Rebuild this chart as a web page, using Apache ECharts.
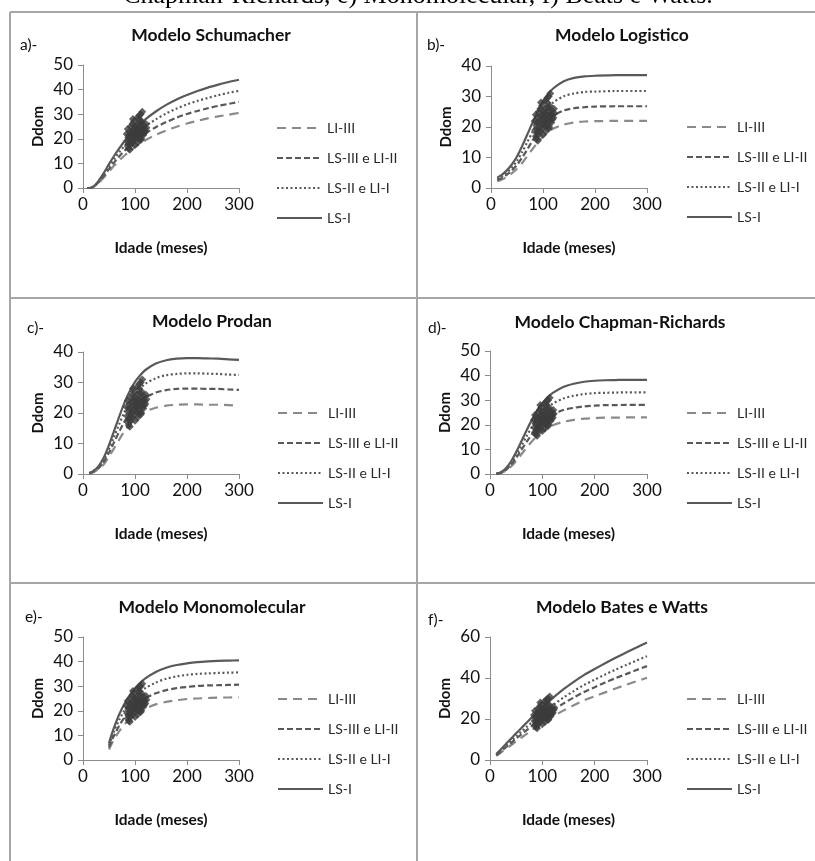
<!DOCTYPE html>
<html><head><meta charset="utf-8">
<script src="https://cdn.jsdelivr.net/npm/echarts@6/dist/echarts.min.js"></script>
<style>html,body{margin:0;padding:0;background:#fff}#c{width:815px;height:861px}</style>
</head><body><div id="c"></div>
<script>
// ---------- data ----------
const seriesNames = ['LI-III', 'LS-III e LI-II', 'LS-II e LI-I', 'LS-I'];

const obsAge  = [84,85,86,86,87,88,88,89,90,90,91,92,92,93,94,95,95,96,97,98,98,99,100,100,101,102,102,103,104,105,105,106,107,108,108,109,110,110,111,111,112,113,113,114,114,115,116,117,118,119,120,121,122,96,104,108,112];
const obsDdom = [22,19,17,24,20.5,16,18,21.5,15.5,23,19,17.5,25,22,20,26,18.5,23.5,21,27,19.5,24,22,17.5,25,20.5,23,21.5,24.5,26,18.5,22.5,20,28,24,21,23,26.5,30,19.5,25,22,27,31,23.5,24,21.5,25.5,22.5,24,23,26,24.5,28,28.5,29.5,20];

const ageSchumacher = [8,12,20,30,40,50,60,70,80,90,100,120,140,160,180,200,220,240,260,280,300];
const schumacherLI3 = [0,0.0,0.4,2.0,4.3,6.7,9.1,11.3,13.2,15.0,16.6,19.4,21.6,23.4,24.9,26.2,27.3,28.3,29.1,29.8,30.5];
const schumacherLS3 = [0,0.0,0.5,2.3,4.9,7.7,10.4,12.9,15.2,17.2,19.1,22.2,24.7,26.8,28.6,30.1,31.3,32.4,33.4,34.2,35.0];
const schumacherLS2 = [0,0.0,0.6,2.6,5.5,8.7,11.8,14.6,17.2,19.5,21.5,25.1,27.9,30.3,32.3,34.0,35.4,36.6,37.7,38.7,39.5];
const schumacherLS1 = [0,0.0,0.6,2.9,6.1,9.7,13.1,16.2,19.1,21.7,24.0,27.9,31.1,33.8,36.0,37.8,39.4,40.8,42.0,43.1,44.0];

const ageLogistico = [12,20,30,40,50,60,70,80,90,100,110,120,140,160,180,200,240,300];
const logisticoLI3 = [2.2,2.7,3.6,4.8,6.3,8.2,10.5,12.8,15.0,16.8,18.3,19.5,20.8,21.5,21.8,21.9,22.0,22.0];
const logisticoLS3 = [2.6,3.2,4.3,5.8,7.6,10.0,12.7,15.6,18.2,20.5,22.3,23.7,25.4,26.2,26.5,26.7,26.8,26.8];
const logisticoLS2 = [3.0,3.7,5.0,6.7,8.9,11.8,15.1,18.5,21.6,24.3,26.5,28.1,30.1,31.0,31.5,31.6,31.8,31.8];
const logisticoLS1 = [3.4,4.2,5.7,7.7,10.3,13.8,17.6,21.5,25.2,28.3,30.8,32.7,35.0,36.1,36.6,36.8,37.0,37.0];

const ageProdan = [12,20,30,40,50,60,70,80,90,100,110,120,140,160,180,200,220,240,260,280,300];
const prodanLI3 = [0.2,0.6,1.6,3.2,5.7,8.5,11.4,14.1,16.3,18.1,19.4,20.5,21.7,22.4,22.7,22.8,22.8,22.7,22.7,22.6,22.4];
const prodanLS3 = [0.2,0.7,1.9,4.0,7.0,10.5,14.0,17.3,20.0,22.3,23.9,25.1,26.7,27.5,27.9,28.0,28.0,27.9,27.9,27.7,27.6];
const prodanLS2 = [0.3,0.9,2.3,4.7,8.2,12.3,16.5,20.4,23.6,26.2,28.1,29.6,31.4,32.4,32.8,33.0,33.0,32.9,32.8,32.6,32.5];
const prodanLS1 = [0.3,1.0,2.6,5.4,9.5,14.2,19.0,23.5,27.2,30.2,32.4,34.1,36.2,37.3,37.8,38.0,38.0,37.9,37.8,37.6,37.4];

const ageChapman = [12,20,30,40,50,60,70,80,90,100,110,120,140,160,180,200,220,240,260,280,300];
const chapmanLI3 = [0.1,0.4,1.3,3.0,5.3,8.0,10.7,13.2,15.5,17.3,18.7,19.8,21.2,22.0,22.5,22.7,22.9,22.9,23.0,23.0,23.0];
const chapmanLS3 = [0.1,0.4,1.6,3.7,6.5,9.8,13.1,16.1,18.9,21.1,22.9,24.2,26.0,26.9,27.5,27.8,28.0,28.0,28.1,28.1,28.1];
const chapmanLS2 = [0.1,0.5,1.9,4.3,7.7,11.5,15.4,19.1,22.4,25.0,27.1,28.6,30.7,31.8,32.5,32.9,33.0,33.1,33.2,33.2,33.2];
const chapmanLS1 = [0.1,0.6,2.2,5.0,8.9,13.3,17.8,22.0,25.8,28.8,31.2,33.0,35.4,36.7,37.5,37.9,38.1,38.2,38.3,38.3,38.3];

const ageMono = [50,55,60,70,80,90,100,110,120,140,160,180,200,220,240,260,280,300];
const monoLI3 = [4.3,6.5,8.4,11.8,14.5,16.6,18.4,19.8,20.9,22.6,23.6,24.3,24.8,25.0,25.2,25.4,25.4,25.5];
const monoLS3 = [5.1,7.8,10.1,14.1,17.4,20.0,22.1,23.8,25.1,27.1,28.4,29.2,29.7,30.1,30.3,30.4,30.5,30.6];
const monoLS2 = [6.0,9.0,11.8,16.5,20.2,23.2,25.7,27.6,29.2,31.5,33.0,34.0,34.6,35.0,35.2,35.4,35.5,35.6];
const monoLS1 = [6.8,10.3,13.4,18.7,23.0,26.4,29.2,31.4,33.2,35.8,37.5,38.6,39.3,39.8,40.1,40.3,40.4,40.5];

const ageBates = [12,20,30,40,50,60,70,80,90,100,120,140,160,180,200,220,240,260,280,300];
const batesLI3 = [2.0,3.5,5.4,7.2,9.1,10.9,12.7,14.6,16.3,18.0,21.1,24.1,26.7,29.1,31.1,33.0,34.9,36.7,38.4,40.1];
const batesLS3 = [2.3,4.0,6.2,8.2,10.4,12.5,14.6,16.6,18.6,20.6,24.2,27.5,30.5,33.2,35.5,37.8,39.9,41.9,43.9,45.8];
const batesLS2 = [2.6,4.4,6.8,9.1,11.5,13.8,16.1,18.4,20.6,22.7,26.7,30.4,33.6,36.6,39.2,41.7,44.1,46.3,48.5,50.6];
const batesLS1 = [2.9,5.0,7.7,10.3,13.0,15.6,18.2,20.8,23.3,25.7,30.2,34.4,38.1,41.5,44.4,47.2,49.9,52.4,54.9,57.3];

const yMaxes = [50, 40, 40, 50, 50, 60];
const yIntervals = [10, 10, 10, 10, 10, 20];
const panelTitles = ['Modelo Schumacher', 'Modelo Logistico', 'Modelo Prodan', 'Modelo Chapman-Richards', 'Modelo Monomolecular', 'Modelo Bates e Watts'];
const panelLabels = ['a)-', 'b)-', 'c)-', 'd)-', 'e)-', 'f)-'];
const captionText = 'Chapman-Richards, e) Monomolecular, f) Beats e Watts.';

// ---------- layout / styles ----------
const panelData = [
  {age: ageSchumacher, curves: [schumacherLI3, schumacherLS3, schumacherLS2, schumacherLS1]},
  {age: ageLogistico, curves: [logisticoLI3, logisticoLS3, logisticoLS2, logisticoLS1]},
  {age: ageProdan, curves: [prodanLI3, prodanLS3, prodanLS2, prodanLS1]},
  {age: ageChapman, curves: [chapmanLI3, chapmanLS3, chapmanLS2, chapmanLS1]},
  {age: ageMono, curves: [monoLI3, monoLS3, monoLS2, monoLS1]},
  {age: ageBates, curves: [batesLI3, batesLS3, batesLS2, batesLS1]}
];
const layout = [
  {grid: {left: 83, top: 65, width: 156, height: 123}, legend: {left: 276, top: 121}, label: [20, 45], title: [211, 35]},
  {grid: {left: 491, top: 66, width: 156, height: 122}, legend: {left: 686, top: 120}, label: [427, 45], title: [622, 35]},
  {grid: {left: 83, top: 352, width: 156, height: 122}, legend: {left: 277, top: 406}, label: [27, 328], title: [212, 321]},
  {grid: {left: 490, top: 351, width: 157, height: 123}, legend: {left: 686, top: 406}, label: [428, 328], title: [620, 322]},
  {grid: {left: 83, top: 637, width: 156, height: 123}, legend: {left: 277, top: 692}, label: [25, 617], title: [212, 607]},
  {grid: {left: 490, top: 637, width: 157, height: 123}, legend: {left: 686, top: 692}, label: [428, 620], title: [622, 607]}
];
const lineStyles = [
  {color: '#8a8a8a', width: 2.2, type: [9, 6]},
  {color: '#595959', width: 2.2, type: [6, 3]},
  {color: '#595959', width: 2.2, type: [2, 2.5]},
  {color: '#595959', width: 2.2, type: 'solid'}
];
const FONT = 'Lato, "Open Sans", sans-serif';
const axisColor = '#8c8c8c';

const grids = [], xAxes = [], yAxes = [], series = [], legends = [], graphics = [];

layout.forEach((L, i) => {
  grids.push(Object.assign({containLabel: false}, L.grid));
  xAxes.push({
    gridIndex: i, type: 'value', min: 0, max: 300, interval: 100,
    axisLine: {show: true, lineStyle: {color: axisColor, width: 1}},
    axisTick: {show: true, length: 5, lineStyle: {color: axisColor}},
    axisLabel: {fontSize: 17, fontFamily: FONT, color: '#111', margin: 8},
    splitLine: {show: false},
    name: 'Idade (meses)', nameLocation: 'middle', nameGap: 52,
    nameTextStyle: {fontWeight: 'bold', fontSize: 15.5, fontFamily: FONT, color: '#111'}
  });
  yAxes.push({
    gridIndex: i, type: 'value', min: 0, max: yMaxes[i], interval: yIntervals[i],
    axisLine: {show: true, lineStyle: {color: axisColor, width: 1}},
    axisTick: {show: true, length: 5, lineStyle: {color: axisColor}},
    axisLabel: {fontSize: 17, fontFamily: FONT, color: '#111', margin: 10},
    splitLine: {show: false},
    name: 'Ddom', nameLocation: 'middle', nameGap: 37, nameRotate: 90,
    nameTextStyle: {fontWeight: 'bold', fontSize: 15, fontFamily: FONT, color: '#111'}
  });
  const P = panelData[i];
  P.curves.forEach((vals, k) => {
    series.push({
      name: seriesNames[k], type: 'line', xAxisIndex: i, yAxisIndex: i,
      data: P.age.map((a, j) => [a, vals[j]]),
      smooth: 0.3, showSymbol: false, symbol: 'circle', silent: true,
      lineStyle: lineStyles[k], itemStyle: {color: lineStyles[k].color}, z: 2
    });
  });
  series.push({
    name: 'obs', type: 'scatter', xAxisIndex: i, yAxisIndex: i,
    data: obsAge.map((a, j) => [a, obsDdom[j]]),
    symbol: 'diamond', symbolSize: 8, itemStyle: {color: '#3c3c3c'}, z: 3, silent: true
  });
  legends.push({
    orient: 'vertical', left: L.legend.left, top: L.legend.top, padding: 0,
    itemWidth: 45, itemHeight: 14, itemGap: 16, selectedMode: false,
    itemStyle: {opacity: 0},
    data: seriesNames,
    textStyle: {fontSize: 14, fontFamily: FONT, color: '#2a2a2a'}
  });
  graphics.push({type: 'text', x: L.title[0], y: L.title[1], silent: true,
    style: {text: panelTitles[i], font: 'bold 17.5px ' + FONT, fill: '#111', align: 'center', verticalAlign: 'middle'}});
  graphics.push({type: 'text', x: L.label[0], y: L.label[1], silent: true,
    style: {text: panelLabels[i], font: '15.5px ' + FONT, fill: '#111', align: 'left', verticalAlign: 'middle'}});
});

// table borders and caption
const border = {stroke: '#a6a6a6', lineWidth: 2};
[[10, 12, 815, 12], [10, 12, 10, 861], [417, 12, 417, 861], [10, 298, 815, 298], [10, 583, 815, 583]].forEach(s => {
  graphics.push({type: 'line', silent: true, shape: {x1: s[0], y1: s[1], x2: s[2], y2: s[3]}, style: border});
});
graphics.push({type: 'text', x: 418, y: 9, silent: true,
  style: {text: captionText, font: '26px "Liberation Serif", "Times New Roman", serif', fill: '#000', align: 'center', verticalAlign: 'bottom'}});

const chart = echarts.init(document.getElementById('c'), null, {renderer: 'canvas'});
chart.setOption({
  animation: false,
  backgroundColor: '#fff',
  grid: grids, xAxis: xAxes, yAxis: yAxes, series: series, legend: legends,
  graphic: {elements: graphics}
});
</script></body></html>
